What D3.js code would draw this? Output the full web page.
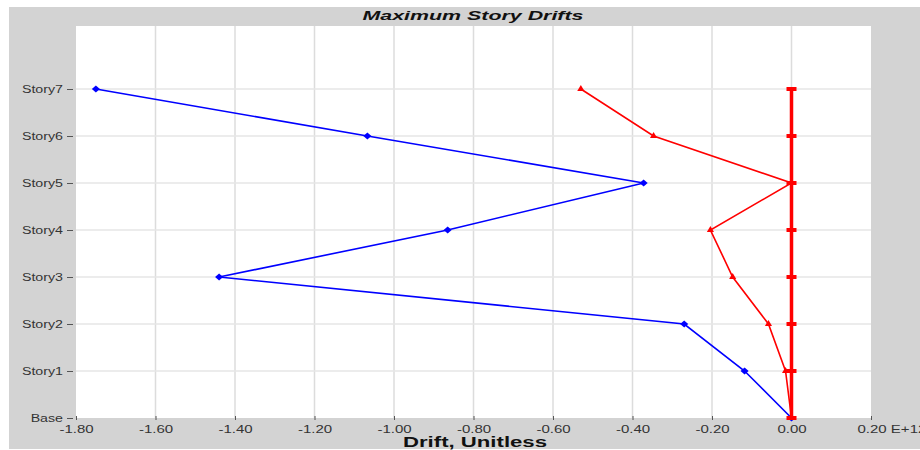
<!DOCTYPE html>
<html>
<head>
<script src="https://cdn.jsdelivr.net/npm/d3@7"></script>
<style>
    body{ margin:0; background:#fff; font-family:"Liberation Sans",Arial,sans-serif; }
</style>
</head>
<body>
<div id="chart"></div>
<script>
    var stories = ["Base","Story1","Story2","Story3","Story4","Story5","Story6","Story7"]
    var xTicks = [-1.80,-1.60,-1.40,-1.20,-1.00,-0.80,-0.60,-0.40,-0.20,0.00,0.20]
    var blueDrift = [0.00,-0.118,-0.27,-1.44,-0.865,-0.372,-1.067,-1.75]
    var redDrift = [0.00,-0.015,-0.058,-0.148,-0.204,0.00,-0.347,-0.53]
    var zeroDrift = [0,0,0,0,0,0,0,0]

    var W = 920, H = 450
    var plotL = 76, plotR = 871, plotT = 26, plotB = 418

    var svg = d3.select("#chart").append("svg")
        .attr("width",W).attr("height",H)

    // the original picture is stretched sideways, so text gets widened too
    function stretch(sel,k){
        sel.each(function(){
            var w = this.getComputedTextLength()
            d3.select(this).attr("textLength",w*k).attr("lengthAdjust","spacingAndGlyphs")
        })
    }

    // gray frame
    svg.append("rect").attr("x",9).attr("y",7).attr("width",W-9).attr("height",H-8).attr("fill","#d3d3d3")
    svg.append("rect").attr("x",plotL).attr("y",plotT).attr("width",plotR-plotL).attr("height",plotB-plotT).attr("fill","#fff")

    var x = d3.scaleLinear().domain([-1.8,0.2]).range([plotL,plotR])
    var y = d3.scalePoint().domain(stories).range([plotB,89])

    // grid
    svg.append("g").selectAll("line").data(xTicks.slice(1,-1)).enter().append("line")
        .attr("x1",d=>x(d)).attr("x2",d=>x(d)).attr("y1",plotT).attr("y2",plotB)
        .attr("stroke","#dcdcdc").attr("stroke-width",1.5)
    svg.append("g").selectAll("line").data(stories.slice(1)).enter().append("line")
        .attr("x1",plotL).attr("x2",plotR).attr("y1",d=>y(d)).attr("y2",d=>y(d))
        .attr("stroke","#e6e6e6").attr("stroke-width",1.5)

    // axes
    var xAxis = d3.axisBottom(x).tickValues(xTicks).tickSize(4).tickPadding(3)
        .tickFormat(function(d){ return d===0.2 ? "0.20 E+12" : d3.format(".2f")(d).replace("−","-") })
    var gx = svg.append("g").attr("transform","translate(0,"+(plotB-2)+")").call(xAxis)
    gx.select(".domain").remove()
    gx.selectAll("line").attr("stroke","#555")
    gx.selectAll("text").attr("fill","#333").attr("font-size",10).attr("dy","0.95em")
    gx.selectAll(".tick:last-child text").attr("text-anchor","start").attr("dx",-14)
    stretch(gx.selectAll("text"),1.5)

    var yAxis = d3.axisLeft(y).tickSize(6).tickPadding(4)
    var gy = svg.append("g").attr("transform","translate("+(plotL-3)+",0)").call(yAxis)
    gy.select(".domain").remove()
    gy.selectAll("line").attr("stroke","#555")
    gy.selectAll("text").attr("fill","#333").attr("font-size",10)
    stretch(gy.selectAll("text"),1.42)

    // title and x label
    var title = svg.append("text").attr("x",473).attr("y",20).attr("text-anchor","middle")
        .attr("font-size",12).attr("font-weight","bold").attr("font-style","italic")
        .attr("fill","#111").text("Maximum Story Drifts")
    title.attr("textLength",221).attr("lengthAdjust","spacingAndGlyphs")
    var xlab = svg.append("text").attr("x",475).attr("y",447).attr("text-anchor","middle")
        .attr("font-size",14).attr("font-weight","bold").attr("fill","#111").text("Drift, Unitless")
    xlab.attr("textLength",144).attr("lengthAdjust","spacingAndGlyphs")

    function series(vals,color,width){
        var line = d3.line().x(function(d,i){return x(d)}).y(function(d,i){return y(stories[i])})
        svg.append("path").datum(vals).attr("d",line).attr("fill","none")
            .attr("stroke",color).attr("stroke-width",width)
    }

    series(blueDrift,"#0000ff",1.6)
    svg.append("g").selectAll("path").data(blueDrift).enter().append("path")
        .attr("d",d3.symbol().type(d3.symbolDiamond).size(22))
        .attr("transform",function(d,i){return "translate("+x(d)+","+y(stories[i])+") scale(1.6,0.8)"})
        .attr("fill","#0000ff")

    series(redDrift,"#ff0000",1.6)
    svg.append("g").selectAll("path").data(redDrift).enter().append("path")
        .attr("d",d3.symbol().type(d3.symbolTriangle).size(22))
        .attr("transform",function(d,i){return "translate("+x(d)+","+y(stories[i])+")"})
        .attr("fill","#ff0000")

    series(zeroDrift,"#ff0000",3.5)
    svg.append("g").selectAll("rect").data(zeroDrift).enter().append("rect")
        .attr("x",function(d){return x(d)-5}).attr("y",function(d,i){return y(stories[i])-2})
        .attr("width",10).attr("height",4).attr("fill","#ff0000")
</script>
</body>
</html>
